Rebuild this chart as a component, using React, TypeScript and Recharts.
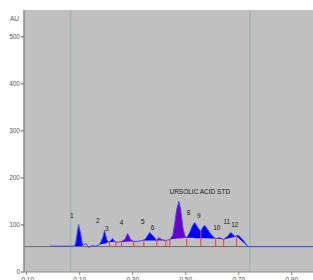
import React from 'react';
import {
  ComposedChart,
  XAxis,
  YAxis,
  Area,
  Line,
  Scatter,
  ReferenceLine,
  CartesianGrid,
} from 'recharts';

// Retention time (min) of the sampled trace points
const times = [
  -0.013, 0.077, 0.081, 0.085, 0.096, 0.104, 0.111, 0.123, 0.134, 0.145, 0.16,
  0.175, 0.187, 0.194, 0.202, 0.209, 0.217, 0.225, 0.232, 0.243,
  0.258, 0.27, 0.281, 0.292, 0.304, 0.319, 0.334,
  0.342, 0.349, 0.364, 0.375, 0.391, 0.398, 0.409, 0.425,
  0.44, 0.451, 0.458, 0.466, 0.474, 0.481, 0.489, 0.496, 0.504,
  0.515, 0.526, 0.534, 0.545, 0.557, 0.564, 0.572, 0.583, 0.598, 0.613,
  0.628, 0.643, 0.658, 0.67, 0.685, 0.692, 0.7, 0.711, 0.723, 0.734, 0.979,
];
// Detector signal (AU)
const signal = [
  55, 55, 56, 61, 101, 80, 56, 61, 52, 56, 55,
  58, 73, 88, 69, 63, 67, 71, 65, 63,
  65, 69, 82, 69, 65, 65, 67,
  68, 71, 84, 78, 67, 73, 69, 67,
  69, 78, 101, 133, 150, 133, 95, 78, 73,
  84, 99, 105, 95, 86, 95, 99, 90, 78, 71,
  73, 69, 76, 84, 76, 77, 78, 71, 63, 54, 54,
];
// Integration baseline under each integrated peak (null = not integrated)
const integrationBase: (number | null)[] = [
  null, null, 55, 55, 55, 55, 55, null, null, null, null,
  58, 60, 60, 62, 63, 64, 64, 65, null,
  64, 64, 65, 65, 65, null, null,
  67, 67, 67, 67, 67, 67, 67, 67,
  69, 70, 70, 71, 71, 72, 72, 73, 73,
  73, 73, 72, 72, 72, 72, 72, 72, 71, 71,
  70, 69, 71, 73, 75, 76, 72, 66, 60, 54, null,
];
// Peak fill colour class: b = blue, p = purple
const fillClass = [
  '', '', 'b', 'b', 'b', 'b', 'b', '', '', '', '',
  'b', 'b', 'b', 'b', 'b', 'b', 'b', 'b', '',
  'p', 'p', 'p', 'p', 'p', '', '',
  'b', 'b', 'b', 'b', 'bp', 'p', 'p', 'p',
  'p', 'p', 'p', 'p', 'p', 'p', 'p', 'p', 'pb',
  'b', 'b', 'b', 'b', 'b', 'b', 'b', 'b', 'b', 'bp',
  'p', 'pb', 'b', 'b', 'b', 'b', 'b', 'b', 'b', 'b', '',
];

// Peak boundary drop lines
const dropTimes = [0.213, 0.236, 0.258, 0.304, 0.342, 0.391, 0.425, 0.44, 0.504, 0.557, 0.613, 0.643, 0.692];
const dropTops = [65, 65, 65, 65, 68, 67, 67, 69, 73, 86, 71, 69, 77];

// Peak labels
const labelNames = ['1', '2', '3', '4', '5', '6', 'URSOLIC ACID STD', '8', '9', '10', '11', '12'];
const labelTimes = [0.07, 0.168, 0.202, 0.258, 0.338, 0.375, 0.553, 0.511, 0.549, 0.617, 0.655, 0.685];
const labelValues = [120, 110, 93, 105, 107, 95, 171, 127, 120, 95, 107, 101];

// Axis
const xTicks = [-0.1, 0.1, 0.3, 0.5, 0.7, 0.9];
const yTicks = [0, 100, 200, 300, 400, 500];
const windowMarks = [0.066, 0.742];
const detectorBaseline = 54;

const rows = times.map((t, i) => {
  const b = integrationBase[i];
  const c = fillClass[i];
  return {
    t,
    v: signal[i],
    blue: b !== null && c.includes('b') ? [b, signal[i]] : null,
    purple: b !== null && c.includes('p') ? [b, signal[i]] : null,
  };
});

const labelData = labelNames.map((name, i) => ({ t: labelTimes[i], v: labelValues[i], name }));

const FONT = 'Liberation Sans, Arial, sans-serif';

const LabelShape = (props: any) => {
  const { cx, cy, payload } = props;
  return (
    <text
      x={cx}
      y={cy}
      textAnchor="middle"
      dominantBaseline="central"
      fontSize={6.5}
      fontFamily={FONT}
      fill="#1a1a1a"
      stroke="none"
    >
      {payload.name}
    </text>
  );
};

export default function App() {
  return (
    <div style={{ position: 'absolute', left: 0, top: 0, width: 313, height: 280, overflow: 'hidden', background: '#fff' }}>
      <ComposedChart
        width={313}
        height={300}
        data={rows}
        margin={{ top: 10, right: 0, bottom: 0, left: 0 }}
      >
        <CartesianGrid horizontal={false} vertical={false} fill="#c0c0c0" fillOpacity={1} />
        <XAxis
          dataKey="t"
          type="number"
          domain={[-0.11, 0.98]}
          allowDataOverflow
          ticks={xTicks}
          tickFormatter={(v: number) => v.toFixed(2)}
          height={28}
          tickSize={3}
          tick={{ fontSize: 6.5, fill: '#555', fontFamily: FONT }}
          stroke="#888"
        />
        <YAxis
          type="number"
          domain={[0, 557]}
          allowDataOverflow
          ticks={yTicks}
          width={24}
          tickSize={3}
          tickMargin={1}
          tick={{ fontSize: 6.5, fill: '#555', fontFamily: FONT }}
          stroke="#888"
          strokeWidth={1.5}
        />
        <ReferenceLine y={detectorBaseline} stroke="#6a6a6a" strokeWidth={1} />
        {windowMarks.map((x) => (
          <ReferenceLine key={x} x={x} stroke="#8cb2aa" strokeWidth={1} />
        ))}
        <Area
          dataKey="blue"
          type="linear"
          stroke="none"
          fill="#0000ff"
          fillOpacity={1}
          connectNulls={false}
          isAnimationActive={false}
        />
        <Area
          dataKey="purple"
          type="linear"
          stroke="none"
          fill="#6a00cc"
          fillOpacity={1}
          connectNulls={false}
          isAnimationActive={false}
        />
        <Line
          dataKey="v"
          type="linear"
          stroke="#4848f0"
          strokeWidth={1}
          dot={false}
          isAnimationActive={false}
        />
        {dropTimes.map((t, i) => (
          <ReferenceLine
            key={'d' + i}
            segment={[
              { x: t, y: detectorBaseline },
              { x: t, y: dropTops[i] },
            ]}
            stroke="#ff3333"
            strokeWidth={1}
          />
        ))}
        <Scatter data={labelData} dataKey="v" fill="#1a1a1a" shape={LabelShape} isAnimationActive={false} />
      </ComposedChart>
      <div
        style={{
          position: 'absolute',
          left: 10,
          top: 15,
          fontSize: 6.5,
          fontFamily: FONT,
          color: '#555',
        }}
      >
        AU
      </div>
    </div>
  );
}
